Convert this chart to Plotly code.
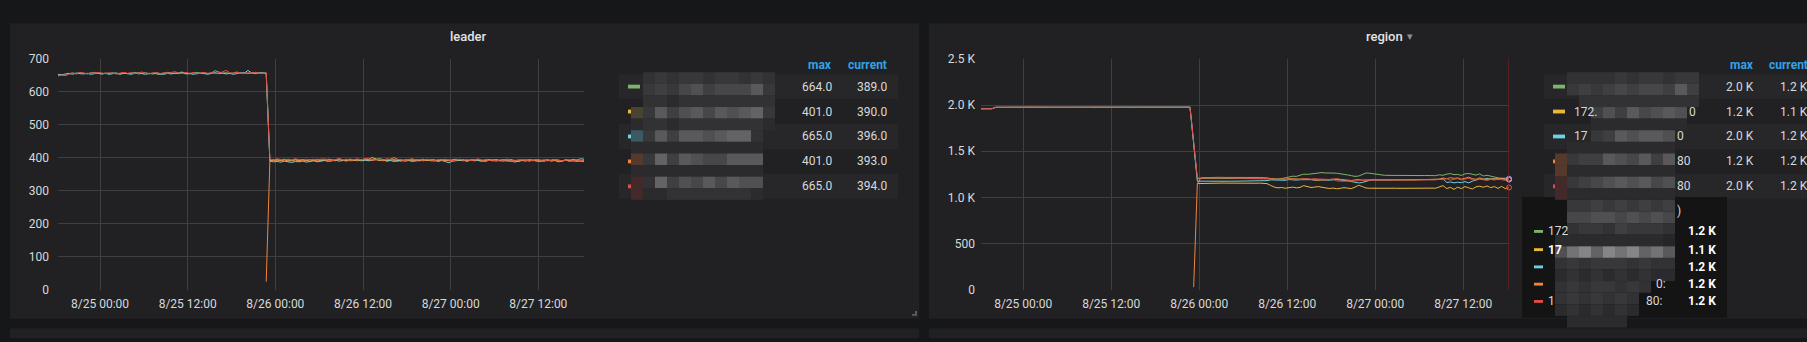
import pandas as pd
import plotly.graph_objects as go

W, H = 1807, 342

# ---------------------------------------------------------------- data
times = pd.date_range("2019-08-24 18:15", periods=145, freq="30min")
x_range = ["2019-08-24 18:15", "2019-08-27 18:15"]
tick_times = ["2019-08-25 00:00", "2019-08-25 12:00", "2019-08-26 00:00",
              "2019-08-26 12:00", "2019-08-27 00:00", "2019-08-27 12:00"]
tick_labels = ["8/25 00:00", "8/25 12:00", "8/26 00:00",
               "8/26 12:00", "8/27 00:00", "8/27 12:00"]

leader_ticks = [0, 100, 200, 300, 400, 500, 600, 700]
leader_tick_labels = ["0", "100", "200", "300", "400", "500", "600", "700"]
region_ticks = [0, 500, 1000, 1500, 2000, 2500]
region_tick_labels = ["0", "500", "1.0 K", "1.5 K", "2.0 K", "2.5 K"]

series_colors = ["#7eb26d", "#eab839", "#6ed0e0", "#ef843c", "#e24d42"]

# leader count per store
leader_green = [
    650, 652, 649, 655, 657, 654, 658, 656, 655, 657,
    659, 656, 654, 657, 655, 658, 656, 653, 657, 655,
    656, 659, 654, 656, 658, 655, 657, 654, 652, 656,
    659, 657, 655, 658, 660, 656, 654, 657, 659, 656,
    658, 655, 657, 664, 659, 656, 658, 655, 657, 660,
    656, 658, 655, 657, 659, 656, 658, 657, 393, 395,
    392, 394, 396, 393, 391, 394, 392, 395, 393, 390,
    394, 396, 392, 393, 395, 391, 394, 397, 393, 392,
    395, 393, 391, 394, 396, 392, 393, 395, 398, 394,
    392, 395, 393, 390, 394, 392, 395, 393, 391, 394,
    396, 393, 392, 394, 391, 395, 393, 392, 394, 396,
    393, 391, 394, 392, 395, 393, 390, 394, 392, 395,
    393, 391, 394, 396, 392, 393, 391, 394, 392, 395,
    393, 390, 392, 394, 391, 393, 395, 392, 390, 393,
    391, 394, 392, 390, 389,
]
leader_yellow = [None] * 58 + [
    391, 393,
    395, 392, 394, 390, 393, 396, 391, 394, 392, 395,
    393, 390, 394, 392, 396, 393, 391, 395, 392, 394,
    396, 392, 394, 391, 393, 395, 401, 396, 392, 394,
    391, 393, 395, 392, 390, 394, 393, 396, 392, 391,
    394, 392, 395, 393, 390, 392, 394, 391, 393, 395,
    392, 394, 390, 393, 391, 395, 392, 389, 393, 391,
    394, 392, 390, 393, 395, 391, 389, 392, 394, 390,
    393, 391, 389, 392, 394, 390, 392, 388, 391, 393,
    390, 392, 389, 391, 390,
]
leader_cyan = [
    653, 651, 654, 656, 653, 657, 655, 654, 656, 653,
    655, 657, 654, 656, 653, 655, 657, 654, 656, 655,
    653, 656, 658, 655, 653, 656, 654, 657, 655, 653,
    656, 654, 657, 655, 658, 654, 656, 653, 655, 657,
    655, 653, 656, 658, 655, 657, 654, 656, 653, 655,
    658, 656, 665, 657, 655, 658, 656, 655, 390, 388,
    389, 387, 390, 388, 386, 389, 388, 390, 387, 389,
    391, 388, 390, 392, 389, 391, 393, 390, 392, 394,
    391, 393, 395, 392, 394, 391, 393, 396, 392, 394,
    390, 392, 389, 391, 393, 390, 392, 389, 391, 393,
    392, 394, 391, 393, 390, 392, 389, 385, 390, 392,
    392, 394, 391, 393, 395, 392, 390, 393, 395, 392,
    394, 391, 393, 390, 392, 387, 390, 393, 391, 394,
    392, 395, 393, 391, 394, 392, 395, 393, 391, 394,
    392, 395, 393, 397, 396,
]
leader_orange = [None] * 57 + [
    25, 390, 392,
    394, 391, 393, 395, 392, 390, 394, 393, 391, 395,
    392, 394, 396, 393, 391, 394, 392, 395, 393, 390,
    394, 392, 395, 393, 397, 394, 392, 395, 393, 391,
    394, 396, 401, 395, 393, 391, 394, 392, 395, 393,
    391, 394, 392, 390, 393, 395, 392, 394, 391, 393,
    395, 392, 390, 394, 392, 395, 393, 391, 394, 392,
    390, 393, 395, 392, 389, 391, 394, 392, 390, 393,
    391, 394, 392, 389, 393, 391, 394, 392, 390, 394,
    392, 390, 393, 391, 393,
]
leader_red = [
    648, 651, 650, 653, 657, 655, 659, 657, 654, 658,
    656, 659, 657, 655, 658, 656, 654, 657, 659, 656,
    658, 655, 657, 660, 656, 654, 657, 659, 655, 658,
    656, 658, 661, 657, 655, 659, 656, 658, 654, 657,
    659, 656, 658, 655, 657, 660, 665, 658, 656, 659,
    657, 655, 658, 656, 659, 657, 655, 658, 396, 394,
    397, 395, 393, 396, 394, 397, 395, 393, 396, 394,
    396, 393, 395, 397, 394, 392, 395, 398, 394, 396,
    393, 395, 397, 394, 396, 399, 395, 393, 396, 394,
    397, 395, 393, 396, 394, 392, 395, 397, 393, 395,
    393, 396, 394, 392, 395, 393, 396, 394, 391, 394,
    396, 393, 395, 392, 394, 397, 393, 395, 392, 394,
    391, 394, 392, 395, 393, 390, 393, 395, 392, 394,
    392, 395, 393, 390, 394, 392, 395, 393, 391, 393,
    395, 392, 394, 392, 394,
]

# region count per store
region_green = [
    1960, 1961, 1960, 1961, 1975, 1976, 1975, 1976, 1976, 1975,
    1976, 1976, 1975, 1976, 1977, 1976, 1975, 1976, 1976, 1975,
    1976, 1976, 1977, 1976, 1975, 1976, 1976, 1977, 1976, 1976,
    1975, 1976, 1976, 1977, 1976, 1976, 1975, 1976, 1977, 1976,
    1976, 1975, 1976, 1976, 1977, 1976, 1976, 1975, 1976, 1976,
    1977, 1976, 1976, 1975, 1976, 1976, 1977, 1976, 1590, 1205,
    1206, 1205, 1206, 1206, 1205, 1206, 1205, 1206, 1206, 1205,
    1206, 1205, 1206, 1205, 1206, 1206, 1205, 1206, 1204, 1198,
    1196, 1200, 1204, 1212, 1225, 1230, 1228, 1240, 1252, 1250,
    1255, 1262, 1266, 1269, 1265, 1268, 1264, 1262, 1258, 1250,
    1244, 1236, 1228, 1232, 1250, 1265, 1262, 1255, 1248, 1242,
    1240, 1239, 1238, 1238, 1237, 1238, 1238, 1237, 1238, 1238,
    1237, 1238, 1238, 1237, 1236, 1245, 1240, 1252, 1258, 1247,
    1250, 1238, 1255, 1260, 1248, 1242, 1255, 1232, 1240, 1228,
    1220, 1212, 1205, 1210, 1204,
]
region_yellow = [None] * 59 + [
    1150,
    1152, 1154, 1155, 1156, 1157, 1158, 1156, 1155, 1154, 1155,
    1156, 1155, 1154, 1156, 1155, 1154, 1155, 1156, 1150, 1130,
    1112, 1104, 1108, 1100, 1106, 1112, 1104, 1109, 1128, 1116,
    1108, 1112, 1118, 1110, 1104, 1097, 1102, 1094, 1099, 1106,
    1101, 1096, 1112, 1132, 1118, 1102, 1100, 1101, 1100, 1099,
    1100, 1100, 1101, 1100, 1099, 1100, 1100, 1101, 1100, 1100,
    1099, 1100, 1100, 1101, 1100, 1115, 1128, 1096, 1110, 1088,
    1112, 1096, 1118, 1104, 1092, 1115, 1122, 1110, 1125, 1106,
    1118, 1098, 1120, 1095, 1108,
]
region_cyan = [
    1960, 1961, 1960, 1960, 1975, 1975, 1976, 1975, 1976, 1976,
    1975, 1976, 1976, 1975, 1976, 1977, 1976, 1975, 1976, 1976,
    1976, 1975, 1976, 1976, 1977, 1976, 1975, 1976, 1976, 1977,
    1976, 1975, 1976, 1976, 1975, 1977, 1976, 1976, 1975, 1976,
    1977, 1976, 1975, 1976, 1976, 1977, 1976, 1975, 1976, 1976,
    1976, 1977, 1976, 1976, 1975, 1976, 1976, 1977, 1585, 1176,
    1176, 1177, 1176, 1176, 1177, 1176, 1176, 1177, 1176, 1176,
    1177, 1176, 1176, 1177, 1176, 1176, 1177, 1176, 1182, 1190,
    1188, 1192, 1190, 1186, 1194, 1190, 1188, 1192, 1195, 1190,
    1193, 1188, 1191, 1195, 1190, 1187, 1192, 1194, 1189, 1186,
    1180, 1172, 1166, 1158, 1162, 1178, 1186, 1190, 1188, 1189,
    1190, 1189, 1190, 1190, 1189, 1190, 1191, 1190, 1189, 1190,
    1190, 1191, 1190, 1189, 1190, 1196, 1204, 1162, 1168, 1158,
    1165, 1160, 1172, 1158, 1176, 1188, 1202, 1194, 1208, 1196,
    1204, 1192, 1210, 1198, 1196,
]
region_orange = [None] * 58 + [
    30, 1150,
    1214, 1216, 1217, 1216, 1217, 1218, 1217, 1216, 1217, 1218,
    1217, 1216, 1217, 1218, 1217, 1216, 1217, 1218, 1212, 1205,
    1200, 1196, 1202, 1198, 1204, 1200, 1195, 1199, 1203, 1198,
    1194, 1190, 1186, 1192, 1188, 1194, 1198, 1202, 1196, 1192,
    1188, 1184, 1190, 1194, 1186, 1190, 1188, 1192, 1190, 1191,
    1190, 1189, 1190, 1190, 1191, 1190, 1190, 1189, 1190, 1190,
    1191, 1190, 1189, 1190, 1190, 1198, 1210, 1202, 1215, 1206,
    1212, 1198, 1208, 1220, 1204, 1196, 1212, 1200, 1190, 1205,
    1196, 1210, 1202, 1195, 1200,
]
region_red = [
    1960, 1960, 1961, 1960, 1976, 1975, 1976, 1976, 1975, 1976,
    1976, 1975, 1976, 1977, 1976, 1975, 1976, 1976, 1975, 1976,
    1977, 1976, 1976, 1975, 1976, 1976, 1977, 1976, 1975, 1976,
    1976, 1977, 1976, 1975, 1976, 1976, 1975, 1977, 1976, 1976,
    1975, 1976, 1976, 1977, 1976, 1975, 1976, 1976, 1977, 1976,
    1976, 1975, 1976, 1977, 1976, 1976, 1975, 1976, 1595, 1210,
    1210, 1211, 1210, 1210, 1211, 1210, 1209, 1210, 1211, 1210,
    1210, 1211, 1210, 1210, 1209, 1210, 1211, 1210, 1205, 1198,
    1196, 1200, 1198, 1194, 1199, 1202, 1197, 1195, 1200, 1203,
    1198, 1204, 1200, 1196, 1192, 1195, 1198, 1180, 1176, 1175,
    1177, 1176, 1178, 1186, 1192, 1190, 1188, 1192, 1189, 1190,
    1191, 1190, 1190, 1189, 1190, 1191, 1190, 1190, 1189, 1190,
    1190, 1189, 1190, 1191, 1190, 1200, 1192, 1206, 1188, 1198,
    1204, 1190, 1196, 1208, 1194, 1186, 1200, 1192, 1184, 1196,
    1188, 1198, 1192, 1186, 1194,
]

leader_series = [leader_green, leader_yellow, leader_cyan, leader_orange, leader_red]
region_series = [region_green, region_yellow, region_cyan, region_orange, region_red]

# ---------------------------------------------------------------- styling
PAGE_BG = "#161719"
PANEL_BG = "#212124"
ROW_BG = "#27272a"
GRID = "#3f3f42"
TEXT = "#d8d9da"
HEAD = "#33a2e5"
FONT = "Roboto, sans-serif"


def px_x(p):
    return p / W


def px_y(p):
    return 1 - p / H


shapes = []
annotations = []


def rect(x0, y0, x1, y1, color, layer="below"):
    shapes.append(dict(type="rect", xref="paper", yref="paper",
                       x0=px_x(x0), x1=px_x(x1), y0=px_y(y1), y1=px_y(y0),
                       fillcolor=color, line=dict(width=0), layer=layer))


def label(x, y, text, anchor="left", size=12, color=TEXT, weight=400):
    annotations.append(dict(xref="paper", yref="paper", x=px_x(x), y=px_y(y),
                            text=text, showarrow=False, xanchor=anchor,
                            yanchor="middle", borderpad=0,
                            font=dict(family=FONT, size=size, color=color,
                                      weight=weight)))


# panels
rect(10, 17, 919, 325, PANEL_BG)
rect(929, 17, 1840, 325, PANEL_BG)
rect(10, 335, 919, 345, PANEL_BG)
rect(929, 335, 1840, 345, PANEL_BG)
# resize handle of the left panel
rect(912, 320, 917, 322, "#5a5a5c", "above")
rect(915, 317, 917, 322, "#5a5a5c", "above")

# titles
label(468, 31, "leader", "center", 13, "#e3e3e3", 500)
label(1384, 31, "region", "center", 13, "#e3e3e3", 500)
label(1406, 31, "▾", "left", 11, "#8e8e90")

# ---------------------------------------------------------------- legends
row_y = [83, 109, 135, 161, 187]


def last_value(values):
    return [v for v in values if v is not None][-1]


def max_value(values):
    return max(v for v in values if v is not None)


def fmt_leader(v):
    return f"{v:.1f}"


def fmt_region(v):
    return f"{v / 1000:.1f} K"


# left legend table
for k in (0, 2, 4):
    rect(619, row_y[k] - 13, 898, row_y[k] + 13, ROW_BG)
label(833, 60, "max", "right", 12, HEAD, 700)
label(888, 60, "current", "right", 12, HEAD, 700)
for k, (vals, col) in enumerate(zip(leader_series, series_colors)):
    rect(628, row_y[k] - 2, 640, row_y[k] + 2, col)
    label(833, row_y[k], fmt_leader(max_value(vals)), "right")
    label(888, row_y[k], fmt_leader(last_value(vals)), "right")

# right legend table
for k in (0, 2, 4):
    rect(1544, row_y[k] - 13, 1840, row_y[k] + 13, ROW_BG)
label(1755, 60, "max", "right", 12, HEAD, 700)
label(1768, 60, "current", "left", 12, HEAD, 700)
for k, (vals, col) in enumerate(zip(region_series, series_colors)):
    rect(1553, row_y[k] - 2, 1565, row_y[k] + 2, col)
    label(1755, row_y[k], fmt_region(max_value(vals)), "right")
    label(1809, row_y[k], fmt_region(last_value(vals)), "right")

label(1573, 109, "172.")
label(1573, 135, "17")
label(1688, 109, "0")
label(1676, 135, "0")
label(1676, 161, "80")
label(1676, 187, "80")

# hover tooltip
shapes.append(dict(type="rect", xref="paper", yref="paper",
                   x0=px_x(1522), x1=px_x(1727), y0=px_y(324), y1=px_y(198),
                   fillcolor="#141414", line=dict(width=0), layer="above"))
tip_y = [234, 253, 271, 289, 307]
for k, (vals, col) in enumerate(zip(region_series, series_colors)):
    rect(1534, tip_y[k] - 1.5, 1543, tip_y[k] + 1.5, col, "above")
    label(1717, tip_y[k], fmt_region(last_value(vals)), "right", 12, "#ffffff", 700)
label(1547, 234, "172")
label(1547, 253, "17", "left", 12, "#ffffff", 700)
label(1547, 307, "1")
label(1655, 289, "0:")
label(1645, 307, "80:")
label(1676, 213, ")")

# pixelated masks over the series names
mask_palette = {
    "1": "#262628", "2": "#2b2b2d", "3": "#323234", "4": "#38383a",
    "5": "#3f3f41", "6": "#474749", "7": "#505052", "8": "#59595b",
    "9": "#636365", "A": "#737375", "B": "#858587",
    "y": "#4a4330", "c": "#3b5a63", "b": "#553a2c", "r": "#44292a",
}
left_mask = [
    ".34344344343",
    ".45467566684",
    ".33233333333",
    "y48578687894",
    "233233333332",
    "c4858878993.",
    "22222222222.",
    "b4958766888.",
    "22222222222.",
    "r3957686877.",
    "r2233333332.",
]
right_mask = [
    ".33334344344.",
    ".45456566585.",
    "..3333333333.",
    "...57586787..",
    "...22222222..",
    "...4587887...",
    ".222222222...",
    "b455876858...",
    "b222222222...",
    "r456787867...",
    "r222222222...",
    ".445454545...",
    ".667767676...",
    ".344354443...",
    "2222222221...",
    "7AB9BAB9A8...",
    "3434443433...",
    "2323232322...",
    "34344343.....",
    "3434343......",
    "2323232......",
    ".22222.......",
]


def mosaic(x0, y0, cw, ch, rows):
    for r, line in enumerate(rows):
        for c, key in enumerate(line):
            if key == ".":
                continue
            rect(x0 + c * cw, y0 + r * ch, x0 + (c + 1) * cw, y0 + (r + 1) * ch,
                 mask_palette[key], "above")


mosaic(631, 68, 12, 12.1, left_mask)
mosaic(1555, 68, 12, 12.1, right_mask)

# ---------------------------------------------------------------- traces
fig = go.Figure()
for vals, col in zip(leader_series, series_colors):
    fig.add_trace(go.Scatter(x=times, y=vals, mode="lines", xaxis="x", yaxis="y",
                             line=dict(color=col, width=1), connectgaps=False,
                             hoverinfo="skip"))
for vals, col in zip(region_series, series_colors):
    fig.add_trace(go.Scatter(x=times, y=vals, mode="lines", xaxis="x2", yaxis="y2",
                             line=dict(color=col, width=1), connectgaps=False,
                             hoverinfo="skip"))
# hover points at the crosshair
for vals, col in zip(region_series, series_colors):
    fig.add_trace(go.Scatter(x=[times[-1]], y=[last_value(vals)], mode="markers",
                             xaxis="x2", yaxis="y2", cliponaxis=False,
                             marker=dict(symbol="circle-open", size=5,
                                         line=dict(color=col, width=1)),
                             hoverinfo="skip"))

# crosshair
shapes.append(dict(type="line", xref="x2", yref="y2 domain",
                   x0=times[-1], x1=times[-1], y0=0, y1=1,
                   line=dict(color="#8a2020", width=1), layer="above"))

axis_font = dict(family=FONT, size=12, color=TEXT)
x_common = dict(type="date", range=x_range, tickvals=tick_times, ticktext=tick_labels,
                showgrid=True, gridcolor=GRID, gridwidth=1, zeroline=False,
                showline=False, ticks="", tickfont=axis_font, fixedrange=True,
                ticklabelstandoff=5)
y_common = dict(showgrid=True, gridcolor=GRID, gridwidth=1, zeroline=False,
                showline=False, ticks="", tickfont=axis_font, fixedrange=True)

ydom = [px_y(295), px_y(54)]
fig.update_layout(
    width=W, height=H,
    margin=dict(l=0, r=0, t=0, b=0),
    paper_bgcolor=PAGE_BG,
    plot_bgcolor="rgba(0,0,0,0)",
    showlegend=False,
    font=dict(family=FONT, color=TEXT),
    xaxis=dict(domain=[px_x(58), px_x(584)], anchor="y", **x_common),
    yaxis=dict(domain=ydom, anchor="x", range=[0, 700], tickvals=leader_ticks,
               ticktext=leader_tick_labels, ticklabelstandoff=8, **y_common),
    xaxis2=dict(domain=[px_x(981), px_x(1509)], anchor="y2", **x_common),
    yaxis2=dict(domain=ydom, anchor="x2", range=[0, 2500], tickvals=region_ticks,
                ticktext=region_tick_labels, ticklabelstandoff=5, **y_common),
    shapes=shapes,
    annotations=annotations,
)

fig.write_html("out.html")
